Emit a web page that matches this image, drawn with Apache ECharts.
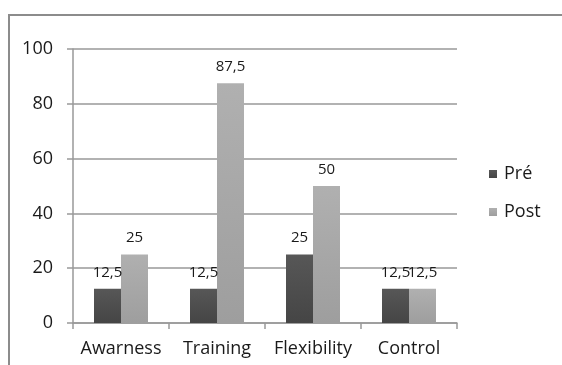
<!DOCTYPE html>
<html>
<head>
<meta charset="utf-8">
<script src="https://cdn.jsdelivr.net/npm/echarts@6/dist/echarts.min.js"></script>
<style>
html,body{margin:0;padding:0;background:#fff;}
#chart{width:562px;height:365px;}
</style>
</head>
<body>
<div id="chart"></div>
<script>
const categories = ["Awarness", "Training", "Flexibility", "Control"];
const preValues = [12.5, 12.5, 25, 12.5];
const postValues = [25, 87.5, 50, 12.5];
const yTicks = [0, 20, 40, 60, 80, 100];

const chart = echarts.init(document.getElementById('chart'), null, {renderer: 'canvas'});
const font = '"Open Sans", "Noto Sans", sans-serif';
const fmt = p => String(p.value).replace('.', ',');

chart.setOption({
  animation: false,
  backgroundColor: '#fff',
  graphic: [{
    type: 'rect',
    shape: {x: 9, y: 15, width: 700, height: 500},
    style: {fill: 'none', stroke: '#8c8c8c', lineWidth: 2},
    silent: true
  }],
  grid: {left: 73, right: 105, top: 49, bottom: 42},
  legend: {
    orient: 'vertical',
    left: 484,
    top: 160,
    icon: 'rect',
    itemWidth: 8,
    itemHeight: 8,
    itemGap: 20,
    textStyle: {fontSize: 18, color: '#1a1a1a', fontFamily: font, padding: [0, 0, 0, 2]},
    data: ['Pré', 'Post']
  },
  xAxis: {
    type: 'category',
    data: categories,
    axisLine: {lineStyle: {color: '#999', width: 1.5}},
    axisTick: {show: true, length: 6, lineStyle: {color: '#999', width: 1.5}},
    axisLabel: {interval: 0, fontSize: 18, color: '#1a1a1a', fontFamily: font, margin: 17}
  },
  yAxis: {
    type: 'value',
    min: yTicks[0],
    max: yTicks[yTicks.length - 1],
    interval: 20,
    axisLine: {show: true, lineStyle: {color: '#999', width: 1.5}},
    axisTick: {show: true, length: 6, lineStyle: {color: '#999', width: 1.5}},
    splitLine: {lineStyle: {color: '#999', width: 1.5}},
    axisLabel: {fontSize: 18, color: '#1a1a1a', fontFamily: font, margin: 20}
  },
  series: [
    {
      name: 'Pré',
      type: 'bar',
      data: preValues,
      barWidth: 27,
      barGap: '0%',
      itemStyle: {
        color: new echarts.graphic.LinearGradient(0, 0, 0, 1, [
          {offset: 0, color: '#575757'},
          {offset: 1, color: '#454545'}
        ])
      },
      label: {show: true, position: 'top', distance: 9, fontSize: 15, color: '#1a1a1a', fontFamily: font, formatter: fmt}
    },
    {
      name: 'Post',
      type: 'bar',
      data: postValues,
      barWidth: 27,
      itemStyle: {
        color: new echarts.graphic.LinearGradient(0, 0, 0, 1, [
          {offset: 0, color: '#b0b0b0'},
          {offset: 1, color: '#9e9e9e'}
        ])
      },
      label: {show: true, position: 'top', distance: 9, fontSize: 15, color: '#1a1a1a', fontFamily: font, formatter: fmt}
    }
  ]
});
</script>
</body>
</html>
